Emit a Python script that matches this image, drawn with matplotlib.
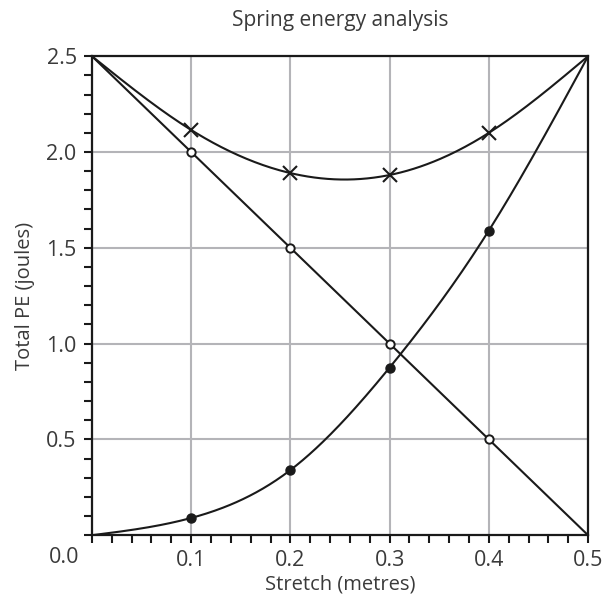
import numpy as np
import matplotlib
matplotlib.use("Agg")
import matplotlib.pyplot as plt
from matplotlib.ticker import MultipleLocator
from matplotlib.transforms import offset_copy

# data
stretch = [0.0, 0.1, 0.2, 0.3, 0.4, 0.5]
gravity_pe = [2.5, 2.0, 1.5, 1.0, 0.5, 0.0]      # open circles
spring_pe = [0.0, 0.09, 0.34, 0.875, 1.59, 2.5]   # filled dots
total_pe = [2.5, 2.115, 1.89, 1.88, 2.10, 2.5]    # crosses
marked = slice(1, 5)  # end points carry no marker

x_ticks = [0.0, 0.1, 0.2, 0.3, 0.4, 0.5]
x_tick_labels = ["", "0.1", "0.2", "0.3", "0.4", "0.5"]
y_ticks = [0.5, 1.0, 1.5, 2.0, 2.5]
y_tick_labels = ["0.5", "1.0", "1.5", "2.0", "2.5"]


def smooth(xs, ys, n=300):
    # natural cubic spline, only for drawing a smooth line through the points
    xs = np.asarray(xs, float)
    ys = np.asarray(ys, float)
    k = len(xs)
    h = np.diff(xs)
    A = np.zeros((k, k))
    b = np.zeros(k)
    A[0, 0] = A[-1, -1] = 1
    for i in range(1, k - 1):
        A[i, i - 1] = h[i - 1]
        A[i, i] = 2 * (h[i - 1] + h[i])
        A[i, i + 1] = h[i]
        b[i] = 6 * ((ys[i + 1] - ys[i]) / h[i] - (ys[i] - ys[i - 1]) / h[i - 1])
    m = np.linalg.solve(A, b)
    xx = np.linspace(xs[0], xs[-1], n)
    idx = np.clip(np.searchsorted(xs, xx) - 1, 0, k - 2)
    x0, x1 = xs[idx], xs[idx + 1]
    hh = x1 - x0
    t0, t1 = x1 - xx, xx - x0
    yy = (m[idx] * t0 ** 3 + m[idx + 1] * t1 ** 3) / (6 * hh) \
        + (ys[idx] / hh - m[idx] * hh / 6) * t0 \
        + (ys[idx + 1] / hh - m[idx + 1] * hh / 6) * t1
    return xx, yy


plt.rcParams['font.family'] = ['Open Sans', 'DejaVu Sans']
plt.rcParams['font.weight'] = 'normal'
txt = '#3a3a3a'
ink = '#1a1a1a'

fig = plt.figure(figsize=(6.05, 5.98), dpi=100)
ax = fig.add_axes([0.152, 0.105, 0.820, 0.801])

ax.plot(stretch, gravity_pe, color=ink, lw=1.5, zorder=3)
ax.plot(stretch[marked], gravity_pe[marked], 'o', ms=6, mfc='white',
        mec=ink, mew=1.4, zorder=4)

sx, sy = smooth(stretch, spring_pe)
ax.plot(sx, sy, color=ink, lw=1.5, zorder=3)
ax.plot(stretch[marked], spring_pe[marked], 'o', ms=6.5, color=ink, zorder=4)

tx, ty = smooth(stretch, total_pe)
ax.plot(tx, ty, color=ink, lw=1.5, zorder=3)
ax.plot(stretch[marked], total_pe[marked], 'x', ms=10, mew=1.5,
        color=ink, zorder=4)

ax.set_xlim(0, 0.5)
ax.set_ylim(0, 2.5)
ax.set_xticks(x_ticks)
ax.set_xticklabels(x_tick_labels)
ax.set_yticks(y_ticks)
ax.set_yticklabels(y_tick_labels)
ax.xaxis.set_minor_locator(MultipleLocator(0.02))
ax.yaxis.set_minor_locator(MultipleLocator(0.1))
ax.tick_params(which='both', direction='out', length=6, width=1.5,
               color=ink, labelsize=15.5, labelcolor=txt, pad=5)
ax.grid(True, which='major', color='#b4b4b8', lw=1.5, zorder=1)
ax.set_axisbelow(True)
for s in ax.spines.values():
    s.set_color(ink)
    s.set_linewidth(1.6)

# shared origin label sits to the left of the corner
ax.text(0, 0, "0.0", fontsize=15.5, color=txt, ha='center', va='top',
        transform=offset_copy(ax.transData, fig=fig, x=-28, y=-12, units='dots'))

ax.set_xlabel("Stretch (metres)", fontsize=14.5, color=txt, labelpad=2)
ax.set_ylabel("Total PE (joules)", fontsize=14.5, color=txt, labelpad=8)
ax.set_title("Spring energy analysis", fontsize=15, color=txt, pad=22)

fig.savefig("out.png", dpi=100)
